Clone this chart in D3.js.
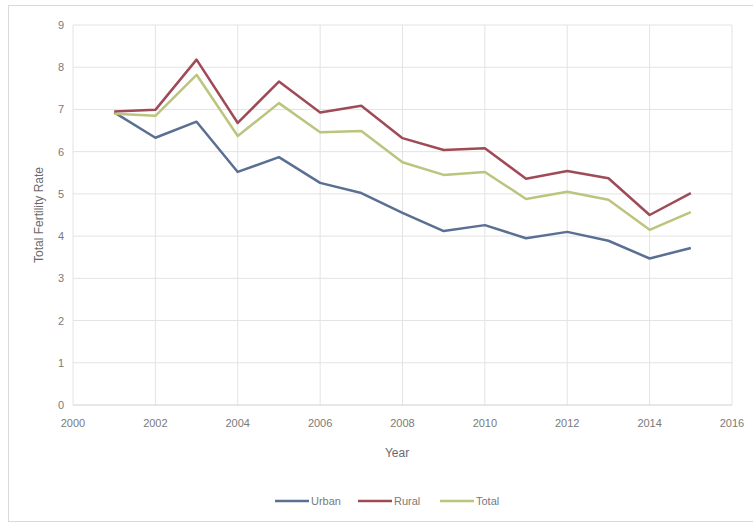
<!DOCTYPE html>
<html><head><meta charset="utf-8">
<script src="https://cdn.jsdelivr.net/npm/d3@7"></script>
<style>body{margin:0;background:#fff}svg{display:block}</style>
</head><body>
<svg id="c" width="753" height="524"></svg>
<script>
const years = [2001,2002,2003,2004,2005,2006,2007,2008,2009,2010,2011,2012,2013,2014,2015];
const urban = [6.93,6.33,6.71,5.52,5.87,5.26,5.02,4.55,4.12,4.26,3.95,4.10,3.89,3.47,3.72];
const rural = [6.95,6.99,8.18,6.68,7.66,6.93,7.09,6.32,6.04,6.08,5.36,5.54,5.37,4.50,5.02];
const total = [6.90,6.85,7.82,6.37,7.15,6.46,6.49,5.75,5.45,5.52,4.88,5.05,4.86,4.15,4.57];
const xTicks = [2000,2002,2004,2006,2008,2010,2012,2014,2016];
const yTicks = [0,1,2,3,4,5,6,7,8,9];
const seriesNames = ["Urban","Rural","Total"];
const seriesColors = ["#5b6f93","#9e4b57","#bcc47e"];
const seriesData = [urban, rural, total];

const svg = d3.select("#c");
const font = "'Liberation Sans', Arial, sans-serif";
svg.append("rect").attr("x",8.5).attr("y",5.5).attr("width",760).attr("height",516)
  .attr("fill","#fff").attr("stroke","#d9d9d9");

const x = d3.scaleLinear().domain([2000,2016]).range([73,732]);
const y = d3.scaleLinear().domain([0,9]).range([405,25]);

const g = svg.append("g");
g.selectAll(".vg").data(xTicks).join("line")
  .attr("x1",d=>x(d)).attr("x2",d=>x(d)).attr("y1",y(9)).attr("y2",y(0))
  .attr("stroke","#e3e3e3").attr("stroke-width",1);
g.selectAll(".hg").data(yTicks).join("line")
  .attr("x1",x(2000)).attr("x2",x(2016)).attr("y1",d=>y(d)).attr("y2",d=>y(d))
  .attr("stroke",d=>d===0?"#d0d0d0":"#e3e3e3").attr("stroke-width",1);

g.selectAll(".yl").data(yTicks).join("text")
  .attr("x",x(2000)-9).attr("y",d=>y(d)+4).attr("text-anchor","end")
  .attr("font-family",font).attr("font-size",11).attr("fill","#7a7a7a").text(d=>d);
g.selectAll(".xl").data(xTicks).join("text")
  .attr("x",d=>x(d)).attr("y",y(0)+22).attr("text-anchor","middle")
  .attr("font-family",font).attr("font-size",11).attr("fill","#7a7a7a").text(d=>d);

svg.append("text").attr("x",397).attr("y",457).attr("text-anchor","middle")
  .attr("font-family",font).attr("font-size",12).attr("fill","#6a6a6a").text("Year");
svg.append("text").attr("transform","translate(43,215) rotate(-90)").attr("text-anchor","middle")
  .attr("font-family",font).attr("font-size",12).attr("fill","#6a6a6a").text("Total Fertility Rate");

const line = d3.line().x((d,i)=>x(years[i])).y(d=>y(d));
seriesData.forEach((s,k)=>{
  svg.append("path").datum(s).attr("d",line).attr("fill","none")
    .attr("stroke",seriesColors[k]).attr("stroke-width",2.5).attr("stroke-linejoin","round");
});

const legX = [275,358,440];
seriesNames.forEach((n,k)=>{
  svg.append("line").attr("x1",legX[k]).attr("x2",legX[k]+34).attr("y1",501).attr("y2",501)
    .attr("stroke",seriesColors[k]).attr("stroke-width",2.5);
  svg.append("text").attr("x",legX[k]+36).attr("y",505).attr("font-family",font)
    .attr("font-size",11).attr("fill","#7a7a7a").text(n);
});
</script>
</body></html>
